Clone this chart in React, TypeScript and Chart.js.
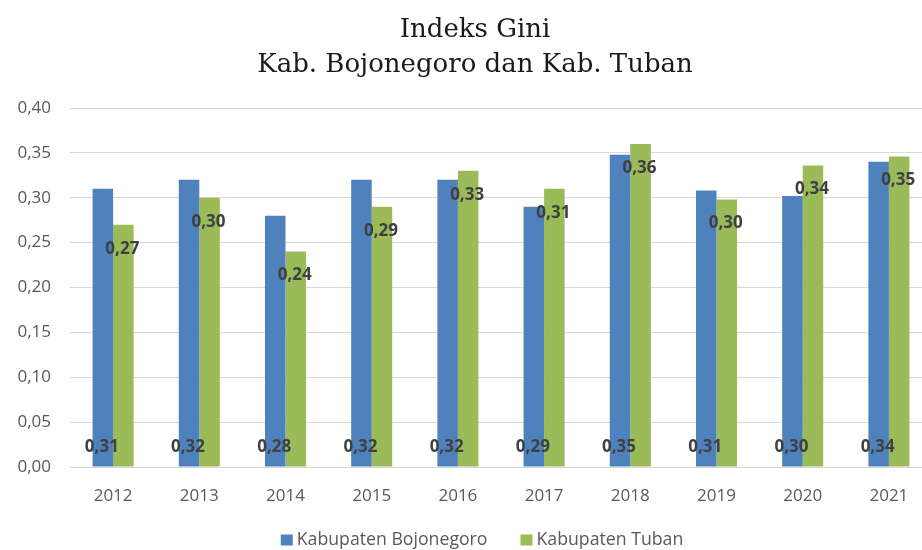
import React, { useEffect, useRef } from "react";
import { Chart, registerables } from "chart.js";

Chart.register(...registerables);

const years = ["2012", "2013", "2014", "2015", "2016", "2017", "2018", "2019", "2020", "2021"];
const bojonegoro = [0.31, 0.32, 0.28, 0.32, 0.32, 0.29, 0.348, 0.308, 0.302, 0.34];
const tuban = [0.27, 0.3, 0.24, 0.29, 0.33, 0.31, 0.36, 0.298, 0.336, 0.346];
const titleLines = ["Indeks Gini", "Kab. Bojonegoro dan Kab. Tuban"];
const seriesNames = ["Kabupaten Bojonegoro", "Kabupaten Tuban"];
const seriesColors = ["#4F81BD", "#9BBB59"];

const VIEW_W = 922;
const fmt = (v: number) => v.toFixed(2).replace(".", ",");

const titlePlugin = {
  id: "customTitle",
  afterDraw(chart: any) {
    const ctx = chart.ctx;
    ctx.save();
    ctx.font = "26px 'DejaVu Serif'";
    ctx.fillStyle = "#1a1a1a";
    ctx.textAlign = "center";
    ctx.textBaseline = "alphabetic";
    const cx = VIEW_W / 2 + 14;
    ctx.fillText(titleLines[0], cx, 37);
    ctx.fillText(titleLines[1], cx, 72);
    ctx.restore();
  },
};

const legendPlugin = {
  id: "customLegend",
  afterDraw(chart: any) {
    const ctx = chart.ctx;
    ctx.save();
    ctx.font = "17.7px 'Open Sans'";
    ctx.textBaseline = "middle";
    ctx.textAlign = "left";
    const box = 12;
    const gapText = 4;
    const gapItem = 33;
    const widths = seriesNames.map((n) => ctx.measureText(n).width);
    const total = widths.reduce((a, w) => a + box + gapText + w, 0) + gapItem * (seriesNames.length - 1);
    let x = VIEW_W / 2 + 21 - total / 2;
    const cy = 540;
    seriesNames.forEach((n, i) => {
      ctx.fillStyle = seriesColors[i];
      ctx.fillRect(x, cy - 5.5, box, 11);
      ctx.fillStyle = "#595959";
      ctx.fillText(n, x + box + gapText, cy);
      x += box + gapText + widths[i] + gapItem;
    });
    ctx.restore();
  },
};

const labelPlugin = {
  id: "barLabels",
  afterDatasetsDraw(chart: any) {
    const ctx = chart.ctx;
    const yScale = chart.scales.y;
    ctx.save();
    ctx.font = "bold 17px 'Open Sans'";
    ctx.fillStyle = "#404040";
    ctx.textAlign = "center";
    ctx.textBaseline = "middle";
    chart.data.datasets.forEach((ds: any, di: number) => {
      const meta = chart.getDatasetMeta(di);
      meta.data.forEach((bar: any, i: number) => {
        const v = ds.data[i];
        const y = di === 0 ? yScale.bottom - 20 : bar.y + 24;
        ctx.fillText(fmt(v), bar.x - 1, y);
      });
    });
    ctx.restore();
  },
};

export default function App() {
  const ref = useRef<HTMLCanvasElement | null>(null);
  useEffect(() => {
    document.body.style.margin = "0";
    const chart = new Chart(ref.current as HTMLCanvasElement, {
      type: "bar",
      data: {
        labels: years,
        datasets: [
          { label: seriesNames[0], data: bojonegoro, backgroundColor: seriesColors[0] },
          { label: seriesNames[1], data: tuban, backgroundColor: seriesColors[1] },
        ],
      },
      options: {
        animation: false,
        responsive: false,
        layout: { padding: { top: 108, right: 0, bottom: 33, left: 0 } },
        datasets: { bar: { categoryPercentage: 0.476, barPercentage: 1 } },
        scales: {
          x: {
            grid: { display: false },
            border: { color: "#d9d9d9", width: 1 },
            ticks: { color: "#595959", font: { family: "'Open Sans'", size: 17 }, padding: 11 },
            afterFit: (s: any) => {
              s.height = 50;
            },
          },
          y: {
            min: 0,
            max: 0.4,
            ticks: {
              stepSize: 0.05,
              color: "#595959",
              font: { family: "'Open Sans'", size: 17 },
              padding: 19,
              callback: (v: any) => fmt(Number(v)),
            },
            grid: { color: "#d9d9d9", drawTicks: false },
            border: { display: false },
            afterFit: (s: any) => {
              s.width = 70;
            },
          },
        },
        plugins: {
          legend: { display: false },
          title: { display: false },
          tooltip: { enabled: false },
        },
      },
      plugins: [titlePlugin, legendPlugin, labelPlugin],
    });
    return () => chart.destroy();
  }, []);
  return (
    <div style={{ width: VIEW_W, height: 550, overflow: "hidden" }}>
      <canvas ref={ref} width={932} height={550} style={{ display: "block" }} />
    </div>
  );
}
